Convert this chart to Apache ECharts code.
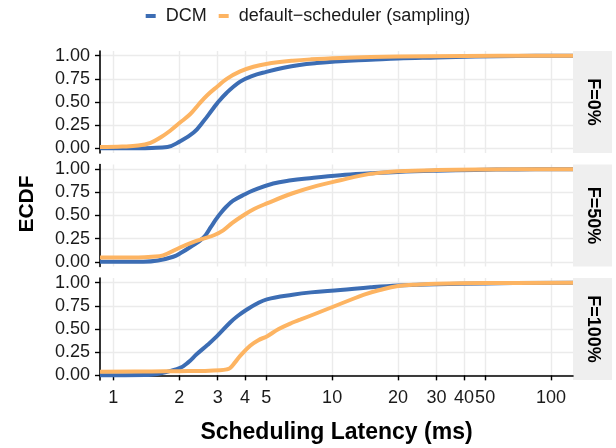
<!DOCTYPE html>
<html>
<head>
<meta charset="utf-8">
<script src="https://cdn.jsdelivr.net/npm/echarts@6/dist/echarts.min.js"></script>
<style>
html, body { margin: 0; padding: 0; background: #fff; }
#chart { width: 616px; height: 448px; }
</style>
</head>
<body>
<div id="chart"></div>
<script>
const facets = ['F=0%', 'F=50%', 'F=100%']
const seriesNames = ['DCM', 'default\u2212scheduler (sampling)']
const xTicks = [1, 2, 3, 4, 5, 10, 20, 30, 40, 50, 100]
const yTicks = [0, 0.25, 0.5, 0.75, 1]

// ECDF curves: [latency ms, fraction]
const dcm0 = [[0.87, 0], [1.2, 0.002], [1.5, 0.005], [1.77, 0.015], [2.0, 0.07], [2.33, 0.17], [2.6, 0.3], [2.8, 0.4], [2.97, 0.48], [3.3, 0.6], [3.8, 0.72], [4.3, 0.78], [5.0, 0.825], [6.0, 0.87], [7.1, 0.9], [8.5, 0.92], [10.9, 0.94], [15, 0.955], [20, 0.97], [30, 0.98], [45, 0.99], [70, 0.996], [126, 1]]
const def0 = [[0.87, 0.015], [1.1, 0.02], [1.3, 0.03], [1.48, 0.06], [1.65, 0.12], [1.82, 0.19], [2.0, 0.27], [2.25, 0.37], [2.45, 0.47], [2.68, 0.57], [3.0, 0.67], [3.3, 0.75], [3.8, 0.83], [4.37, 0.88], [5.0, 0.91], [6.6, 0.945], [8, 0.96], [10.9, 0.975], [15, 0.985], [20, 0.99], [40, 0.997], [126, 1]]
const dcm50 = [[0.87, 0], [1.37, 0.002], [1.6, 0.015], [1.88, 0.055], [2.05, 0.1], [2.25, 0.16], [2.58, 0.26], [2.8, 0.38], [2.95, 0.46], [3.08, 0.52], [3.3, 0.6], [3.53, 0.66], [4.0, 0.73], [4.36, 0.77], [5.38, 0.845], [6.5, 0.88], [7.66, 0.9], [10.9, 0.935], [15, 0.955], [20, 0.97], [30, 0.983], [45, 0.992], [70, 0.997], [126, 1]]
const def50 = [[0.87, 0.047], [1.3, 0.048], [1.5, 0.055], [1.69, 0.07], [2.02, 0.155], [2.3, 0.21], [2.58, 0.25], [2.9, 0.29], [3.18, 0.34], [3.5, 0.42], [3.92, 0.5], [4.4, 0.57], [5.03, 0.63], [6.6, 0.74], [8.5, 0.82], [10.9, 0.88], [13.5, 0.93], [16, 0.957], [20, 0.977], [30, 0.99], [50, 0.996], [126, 1]]
const dcm100 = [[0.87, 0], [1.4, 0.003], [1.7, 0.03], [2.02, 0.08], [2.2, 0.14], [2.41, 0.23], [2.7, 0.33], [2.97, 0.42], [3.42, 0.57], [3.7, 0.64], [4.08, 0.71], [4.5, 0.77], [5.03, 0.82], [6.6, 0.87], [8, 0.895], [10.9, 0.92], [15, 0.95], [20, 0.97], [30, 0.982], [50, 0.992], [126, 1]]
const def100 = [[0.87, 0.04], [1.5, 0.042], [2.0, 0.045], [2.6, 0.048], [3.08, 0.055], [3.3, 0.065], [3.42, 0.08], [3.6, 0.14], [3.8, 0.21], [4.22, 0.32], [4.6, 0.38], [5.03, 0.42], [5.7, 0.5], [6.6, 0.57], [7.14, 0.6], [8.5, 0.67], [10.1, 0.74], [12, 0.81], [14, 0.87], [16.5, 0.92], [20, 0.963], [25, 0.98], [30, 0.988], [50, 0.995], [126, 1]]

const panelData = [[dcm0, def0], [dcm50, def50], [dcm100, def100]]
const colors = ['#3c6db4', '#fdb462']

// layout
const left = 100, width = 473, height = 102
const tops = [51, 164.5, 278]
const stripW = 39
const font = 'Liberation Sans, Arial, Helvetica, sans-serif'
const gridColor = '#ebebeb'

const grid = tops.map(t => ({ left: left, top: t, width: width, height: height }))

const xAxis = tops.map((t, i) => {
	const last = i === tops.length - 1
	return {
		type: 'log',
		logBase: 10,
		gridIndex: i,
		min: 0.87,
		max: 126,
		axisLine: { show: last, lineStyle: { color: '#000', width: 1.6 } },
		axisTick: { show: last, length: 5, customValues: xTicks, lineStyle: { color: '#000', width: 1.4 } },
		axisLabel: {
			show: last,
			customValues: xTicks,
			margin: 9,
			color: '#1a1a1a',
			fontFamily: font,
			fontSize: 18,
			hideOverlap: false,
		},
		splitLine: { show: true, lineStyle: { color: gridColor, width: 1.4 } },
		minorSplitLine: { show: false },
		name: last ? 'Scheduling Latency (ms)' : '',
		nameLocation: 'middle',
		nameGap: 41,
		nameTextStyle: { fontFamily: font, fontSize: 23, fontWeight: 'bold', color: '#000' },
	}
})

const yAxis = tops.map((t, i) => ({
	type: 'value',
	gridIndex: i,
	min: -0.05,
	max: 1.05,
	axisLine: { show: true, lineStyle: { color: '#000', width: 1.6 } },
	axisTick: { show: true, length: 5, customValues: yTicks, lineStyle: { color: '#000', width: 1.4 } },
	axisLabel: {
		customValues: yTicks,
		margin: 10,
		color: '#1a1a1a',
		fontFamily: font,
		fontSize: 18,
		formatter: v => v.toFixed(2),
	},
	splitLine: { show: true, lineStyle: { color: gridColor, width: 1.4 } },
}))

const series = []
panelData.forEach((pair, i) => {
	pair.forEach((pts, k) => {
		series.push({
			name: seriesNames[k],
			type: 'line',
			xAxisIndex: i,
			yAxisIndex: i,
			data: pts,
			showSymbol: false,
			smooth: 0.4,
			lineStyle: { color: colors[k], width: 4 },
			itemStyle: { color: colors[k] },
			z: 3 + k,
		})
	})
})

const graphic = []
tops.forEach((t, i) => {
	graphic.push({
		type: 'rect',
		shape: { x: left + width, y: t, width: stripW, height: height },
		style: { fill: '#efefef' },
		silent: true,
	})
	graphic.push({
		type: 'text',
		x: left + width + stripW / 2,
		y: t + height / 2,
		rotation: -Math.PI / 2,
		style: {
			text: facets[i],
			fill: '#000',
			font: 'bold 18px ' + font,
			align: 'center',
			verticalAlign: 'middle',
		},
		silent: true,
	})
})
graphic.push({
	type: 'text',
	x: 27,
	y: 204,
	rotation: Math.PI / 2,
	style: {
		text: 'ECDF',
		fill: '#000',
		font: 'bold 21px ' + font,
		align: 'center',
		verticalAlign: 'middle',
	},
	silent: true,
})

const option = {
	animation: false,
	color: colors,
	legend: {
		top: 2,
		left: 'center',
		data: seriesNames,
		icon: 'rect',
		itemWidth: 10,
		itemHeight: 4,
		itemGap: 12,
		textStyle: { fontFamily: font, fontSize: 18, color: '#1a1a1a', padding: [0, 0, 0, 5] },
	},
	grid: grid,
	xAxis: xAxis,
	yAxis: yAxis,
	series: series,
	graphic: graphic,
}

const myChart = echarts.init(document.getElementById('chart'))
myChart.setOption(option)
</script>
</body>
</html>
